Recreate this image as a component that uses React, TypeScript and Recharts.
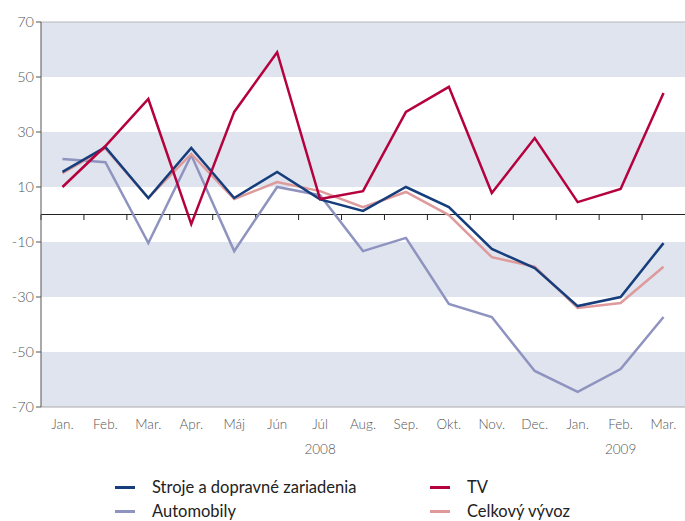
import React from "react";
import { LineChart, Line, XAxis, YAxis, ReferenceArea, ReferenceLine } from "recharts";

const months = ["Jan.", "Feb.", "Mar.", "Apr.", "Máj", "Jún", "Júl", "Aug.", "Sep.", "Okt.", "Nov.", "Dec.", "Jan.", "Feb.", "Mar."];
const yearLabels: Record<number, string> = { 6: "2008", 13: "2009" };

const stroje = [15.5, 24.5, 6, 24.2, 6, 15.5, 5.5, 1.3, 10, 2.7, -12.5, -19.5, -33.3, -30, -10.4];
const tv = [10, 24.9, 42, -3.5, 37.3, 59, 5.6, 8.5, 37.3, 46.4, 7.8, 27.8, 4.5, 9.3, 44.2];
const automobily = [20.2, 19, -10.4, 21.6, -13.3, 10, 7, -13.3, -8.5, -32.5, -37.3, -56.9, -64.5, -56.2, -37.3];
const celkovy = [15, 24, 6, 22, 5.6, 11.8, 8.5, 2.7, 8.2, -0.2, -15.5, -19, -34, -32.2, -19];

const yTicks = [70, 50, 30, 10, -10, -30, -50, -70];
const bands = [[50, 70], [10, 30], [-30, -10], [-70, -50]];

const data = months.map((m, i) => ({
  i,
  stroje: stroje[i],
  tv: tv[i],
  automobily: automobily[i],
  celkovy: celkovy[i],
}));

const font = "Lato, 'Open Sans', sans-serif";

function MonthTick({ x, y, payload }: any) {
  const year = yearLabels[payload.value];
  return (
    <g>
      <text x={x} y={y + 14} textAnchor="middle" fontSize={13.5} fontWeight={300} fill="#555" fontFamily={font}>
        {months[payload.value]}
      </text>
      {year && (
        <text x={x} y={y + 39} textAnchor="middle" fontSize={13.5} fontWeight={300} fill="#555" fontFamily={font}>
          {year}
        </text>
      )}
    </g>
  );
}

const legend = [
  { name: "Stroje a dopravné zariadenia", color: "#163e7c", left: 115, top: 477 },
  { name: "Automobily", color: "#8f93bf", left: 115, top: 501 },
  { name: "TV", color: "#b5023f", left: 430, top: 477 },
  { name: "Celkový vývoz", color: "#df9a9b", left: 430, top: 501 },
];

export default function App() {
  return (
    <div style={{ position: "absolute", left: 0, top: 0, width: 685, height: 521, background: "#fff", overflow: "hidden" }}>
      <LineChart width={685} height={465} data={data} margin={{ top: 22, right: 0, left: 0, bottom: 0 }}>
        {bands.map(([a, b]) => (
          <ReferenceArea key={a} y1={a} y2={b} fill="#dfe4ee" fillOpacity={1} stroke="none" ifOverflow="visible" />
        ))}
        <ReferenceLine y={70} stroke="#b8b8b8" strokeWidth={1} />
        <XAxis
          dataKey="i"
          type="number"
          domain={[-0.5, 14.5]}
          ticks={months.map((_, i) => i)}
          tick={<MonthTick />}
          tickLine={false}
          axisLine={{ stroke: "#aaa" }}
          height={58}
          interval={0}
        />
        <YAxis
          domain={[-70, 70]}
          ticks={yTicks}
          width={41}
          tickSize={5}
          tickLine={{ stroke: "#555" }}
          axisLine={{ stroke: "#555" }}
          tick={{ fontSize: 14.5, fill: "#555", fontFamily: font, fontWeight: 300 }}
          interval={0}
        />
        <ReferenceLine y={0} stroke="#222" strokeWidth={1.2} />
        {months.map((_, i) => (
          <ReferenceLine
            key={"t" + i}
            segment={[{ x: i - 0.5, y: 0 }, { x: i - 0.5, y: -2 }]}
            stroke="#222"
            strokeWidth={1}
          />
        ))}
        <Line dataKey="automobily" stroke="#8f93bf" strokeWidth={2.5} dot={false} isAnimationActive={false} />
        <Line dataKey="celkovy" stroke="#df9a9b" strokeWidth={2.5} dot={false} isAnimationActive={false} />
        <Line dataKey="stroje" stroke="#163e7c" strokeWidth={2.5} dot={false} isAnimationActive={false} />
        <Line dataKey="tv" stroke="#b5023f" strokeWidth={2.5} dot={false} isAnimationActive={false} />
      </LineChart>
      {legend.map((l) => (
        <div
          key={l.name}
          style={{ position: "absolute", left: l.left, top: l.top, display: "flex", alignItems: "center", fontFamily: font, fontSize: 16.5, color: "#222" }}
        >
          <span style={{ display: "inline-block", width: 20, height: 3, background: l.color, marginRight: 17 }} />
          {l.name}
        </div>
      ))}
    </div>
  );
}
